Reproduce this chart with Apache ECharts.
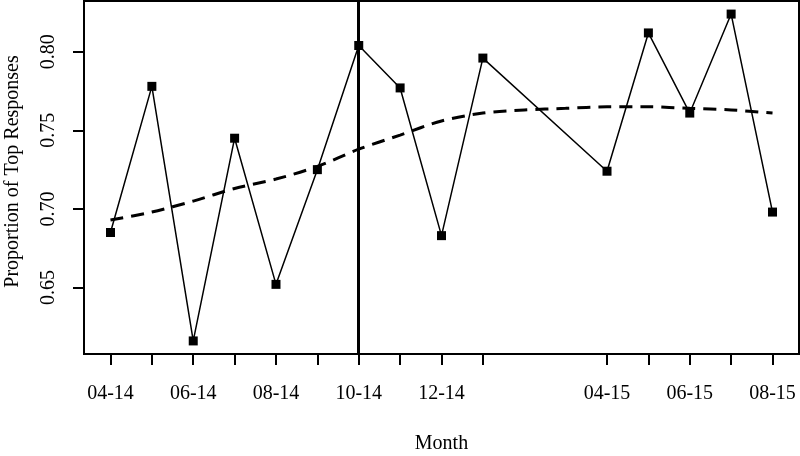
<!DOCTYPE html>
<html>
<head>
<meta charset="utf-8">
<script src="https://cdn.jsdelivr.net/npm/echarts@6/dist/echarts.min.js"></script>
<style>html,body{margin:0;padding:0;background:#fff}#c{width:800px;height:456px}</style>
</head>
<body>
<div id="c"></div>
<script>
// Observed months (MM-YY) and proportions of top responses
const months = ["04-14","05-14","06-14","07-14","08-14","09-14","10-14","11-14","12-14","01-15","04-15","05-15","06-15","07-15","08-15"];
const proportions = [0.685,0.778,0.616,0.745,0.652,0.725,0.804,0.777,0.683,0.796,0.724,0.812,0.761,0.824,0.698];
// Smoothed trend, one value per consecutive month starting 04-14
const trendStart = "04-14";
const trendValues = [0.693,0.698,0.705,0.713,0.719,0.727,0.738,0.747,0.756,0.761,0.763,0.764,0.765,0.765,0.764,0.763,0.761];
// Axis labels and reference line
const xTickLabels = ["04-14","06-14","08-14","10-14","12-14","04-15","06-15","08-15"];
const yTickValues = [0.65,0.70,0.75,0.80];
const breakMonth = "10-14";
const xTitle = "Month";
const yTitle = "Proportion of Top Responses";

function monthIndex(s){
  const [mm, yy] = s.split("-").map(Number);
  const [m0, y0] = trendStart.split("-").map(Number);
  return (yy - y0) * 12 + (mm - m0);
}
const idxToLabel = {};
months.concat(xTickLabels).forEach(m => { idxToLabel[monthIndex(m)] = m; });

const obsData = months.map((m, i) => [monthIndex(m), proportions[i]]);
const trendData = trendValues.map((v, i) => [i, v]);
const nMax = trendValues.length - 1;
const allVals = proportions;
const ymin = Math.min(...allVals), ymax = Math.max(...allVals);
const ypad = (ymax - ymin) * 0.04;

const font = "Liberation Serif";
const chart = echarts.init(document.getElementById('c'), null, {renderer:'canvas'});
chart.setOption({
  animation: false,
  backgroundColor: '#fff',
  grid: {left: 84, right: 1, top: 1, bottom: 102, show: true, borderColor: '#000', borderWidth: 2,
    backgroundColor: 'transparent', containLabel: false, outerBoundsMode: 'none'},
  xAxis: {
    type: 'value',
    min: -nMax * 0.04, max: nMax * 1.04,
    name: xTitle, nameLocation: 'middle', nameGap: 80,
    nameTextStyle: {fontFamily: font, fontSize: 20, color: '#000'},
    axisLine: {show: true, onZero: false, lineStyle: {color: '#000', width: 2}},
    axisTick: {show: true, inside: false, length: 11, lineStyle: {color: '#000', width: 2},
      customValues: months.map(monthIndex)},
    axisLabel: {show: true, margin: 30, fontFamily: font, fontSize: 20, color: '#000',
      customValues: xTickLabels.map(monthIndex),
      formatter: v => idxToLabel[Math.round(v)] || ''},
    splitLine: {show: false}
  },
  yAxis: {
    type: 'value',
    min: ymin - ypad, max: ymax + ypad,
    name: yTitle, nameLocation: 'middle', nameGap: 61, nameRotate: 90,
    nameTextStyle: {fontFamily: font, fontSize: 20, color: '#000', padding: [0, 0, 0, 12]},
    axisLine: {show: true, onZero: false, lineStyle: {color: '#000', width: 2}},
    axisTick: {show: true, inside: false, length: 11, lineStyle: {color: '#000', width: 2},
      customValues: yTickValues},
    axisLabel: {show: true, rotate: 90, margin: 25, fontFamily: font, fontSize: 20, color: '#000',
      customValues: yTickValues, formatter: v => v.toFixed(2)},
    splitLine: {show: false}
  },
  series: [
    {
      type: 'line', data: trendData, symbol: 'none', smooth: 0.3,
      lineStyle: {color: '#000', width: 3, type: [13, 8]},
      z: 2
    },
    {
      type: 'line', data: obsData, symbol: 'rect', symbolSize: 9,
      itemStyle: {color: '#000'},
      lineStyle: {color: '#000', width: 1.5},
      z: 3,
      markLine: {
        silent: true, symbol: ['none','none'], label: {show: false},
        lineStyle: {color: '#000', width: 3, type: 'solid'},
        data: [{xAxis: monthIndex(breakMonth)}]
      }
    }
  ]
});
</script>
</body>
</html>
